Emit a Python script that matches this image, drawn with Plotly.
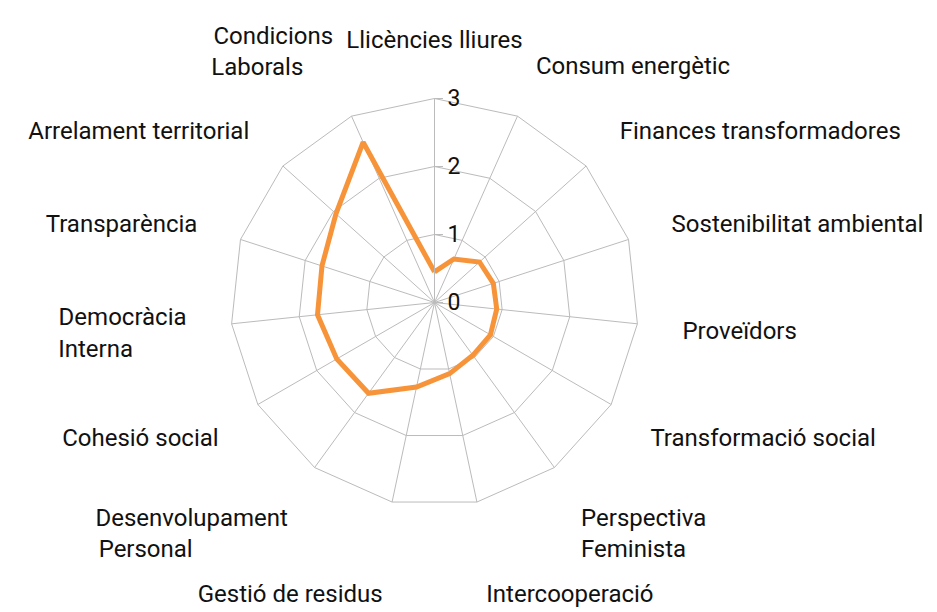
import plotly.graph_objects as go

NB = "\u00a0"
categories = [
    "Llicències lliures", "Consum energètic", "Finances transformadores",
    "Sostenibilitat ambiental", "Proveïdors", "Transformació social",
    "Perspectiva<br>Feminista", "<br>Intercooperació", "<br>Gestió de residus",
    "Desenvolupament<br>Personal" + NB * 16, "Cohesió social",
    "Democràcia<br>Interna" + NB * 9,
    "Transparència", "Arrelament territorial", "Condicions<br>Laborals" + NB * 5,
]
values = [0.45, 0.70, 0.89, 0.91, 0.92, 0.95, 0.96, 1.07, 1.27,
          1.65, 1.66, 1.73, 1.74, 1.95, 2.58]
radial_ticks = [0, 1, 2, 3]

FONT = "Roboto"
W, H = 921, 604          # page body has an 8px margin
CX, CY, R = 426.5, 294.5, 204

fig = go.Figure()
fig.add_trace(go.Scatterpolar(
    r=values + values[:1],
    theta=categories + categories[:1],
    mode="lines",
    line=dict(color="#F7943A", width=5),
    hoverinfo="skip",
    showlegend=False,
))

fig.update_layout(
    width=W, height=H,
    margin=dict(l=0, r=0, t=0, b=0),
    paper_bgcolor="white",
    plot_bgcolor="white",
    font=dict(family=FONT, color="#111", size=24),
    polar=dict(
        domain=dict(x=[(CX - R) / W, (CX + R) / W],
                    y=[(H - CY - R) / H, (H - CY + R) / H]),
        bgcolor="white",
        gridshape="linear",
        angularaxis=dict(
            direction="clockwise", rotation=90,
            categoryorder="array", categoryarray=categories,
            showline=True, linecolor="#BBBBBB", linewidth=1,
            gridcolor="#BBBBBB", gridwidth=1,
            ticks="outside", ticklen=40, tickcolor="rgba(0,0,0,0)",
            tickfont=dict(family=FONT, size=24, color="#111"),
        ),
        radialaxis=dict(
            range=[0, 3], tickvals=radial_ticks, ticktext=[str(v) for v in radial_ticks],
            angle=90, tickangle=90, side="clockwise",
            showline=True, linecolor="#BBBBBB", linewidth=1,
            gridcolor="#BBBBBB", gridwidth=1,
            ticks="outside", ticklen=8, tickcolor="#BBBBBB",
            tickfont=dict(family=FONT, size=23, color="#111"),
        ),
    ),
)

fig.write_html("out.html")
